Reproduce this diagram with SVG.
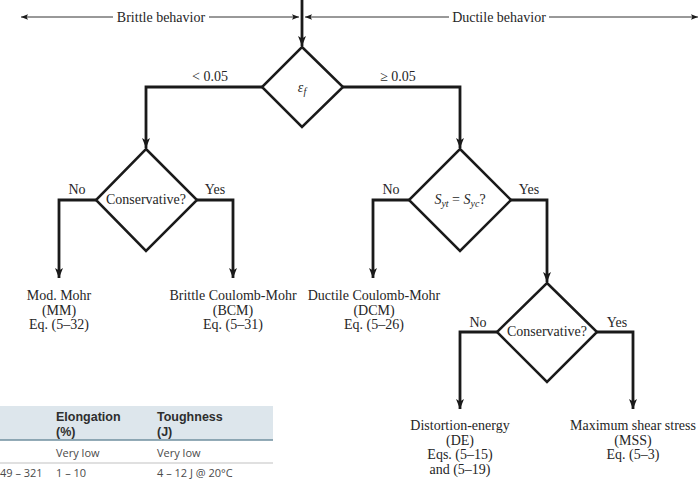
<svg xmlns="http://www.w3.org/2000/svg" width="700" height="483" viewBox="0 0 700 483">
<defs>
<marker id="ah" viewBox="0 0 10 10" refX="10" refY="5" markerWidth="10" markerHeight="10" markerUnits="userSpaceOnUse" orient="auto">
<path d="M0,1 L10,5 L0,9 L2.5,5 Z" fill="#1a1a1a"/>
</marker>
<marker id="as" viewBox="0 0 10 10" refX="10" refY="5" markerWidth="9" markerHeight="7" markerUnits="userSpaceOnUse" orient="auto">
<path d="M0,1 L10,5 L0,9 L2,5 Z" fill="#1a1a1a"/>
</marker>
<style>
.t{font-family:"Liberation Serif","Times New Roman",serif;font-size:14px;fill:#262626;text-anchor:middle}
.i{font-style:italic}
.d{fill:#fff;stroke:#1a1a1a;stroke-width:2.5;stroke-linejoin:miter}
.c{fill:none;stroke:#1a1a1a;stroke-width:2.8;stroke-linejoin:miter}
.thin{fill:none;stroke:#333;stroke-width:1}
.th{font-family:"Liberation Sans",Arial,sans-serif;font-size:12.5px;font-weight:bold;fill:#2e2e2e}
.td{font-family:"Open Sans","Liberation Sans",Arial,sans-serif;font-size:11px;fill:#4a4a4a}
</style>
</defs>
<rect width="700" height="483" fill="#fff"/>

<g id="connectors">
<line class="thin" x1="113" y1="17" x2="21" y2="17" marker-end="url(#as)"/>
<line class="thin" x1="209" y1="17" x2="299" y2="17" marker-end="url(#as)"/>
<line class="thin" x1="449" y1="17" x2="305" y2="17" marker-end="url(#as)"/>
<line class="thin" x1="549" y1="17" x2="698" y2="17" marker-end="url(#as)"/>
<path class="c" d="M302,0 V46" marker-end="url(#ah)"/>
<path class="c" d="M262,87 H146 V148" marker-end="url(#ah)"/>
<path class="c" d="M343,87 H460 V148" marker-end="url(#ah)"/>
<path class="c" d="M96,200 H59 V278" marker-end="url(#ah)"/>
<path class="c" d="M197,200 H233 V278" marker-end="url(#ah)"/>
<path class="c" d="M409,200 H373 V278" marker-end="url(#ah)"/>
<path class="c" d="M511,200 H547 V282" marker-end="url(#ah)"/>
<path class="c" d="M497,332 H460 V409" marker-end="url(#ah)"/>
<path class="c" d="M597,332 H633 V409" marker-end="url(#ah)"/>
<text class="t" x="161" y="22">Brittle behavior</text>
<text class="t" x="499" y="22">Ductile behavior</text>
<text class="t" x="210" y="81">&lt; 0.05</text>
<text class="t" x="398" y="81">≥ 0.05</text>
<text class="t" x="77" y="194">No</text>
<text class="t" x="215" y="194">Yes</text>
<text class="t" x="391" y="194">No</text>
<text class="t" x="529" y="194">Yes</text>
<text class="t" x="478" y="327">No</text>
<text class="t" x="617" y="327">Yes</text>
</g>

<g id="ef">
<path class="d" d="M302,47 L343,87 L302,127 L262,87 Z"/>
<text class="t i" x="302" y="92">ε<tspan font-size="10" dy="3">f</tspan></text>
</g>

<g id="conservative-brittle">
<path class="d" d="M146,149 L197,200 L146,251 L96,200 Z"/>
<text class="t" x="146" y="204">Conservative?</text>
</g>

<g id="syt-syc">
<path class="d" d="M460,149 L511,200 L460,251 L409,200 Z"/>
<text class="t" x="460" y="204"><tspan class="i">S</tspan><tspan class="i" font-size="10" dy="3">yt</tspan><tspan dy="-3"> = </tspan><tspan class="i">S</tspan><tspan class="i" font-size="10" dy="3">yc</tspan><tspan dy="-3">?</tspan></text>
</g>

<g id="conservative-ductile">
<path class="d" d="M547,283 L597,332 L547,382 L497,332 Z"/>
<text class="t" x="547" y="336">Conservative?</text>
</g>

<g id="mm">
<text class="t" x="59" y="300">Mod. Mohr</text>
<text class="t" x="59" y="314.5">(MM)</text>
<text class="t" x="59" y="329">Eq. (5–32)</text>
</g>

<g id="bcm">
<text class="t" x="233" y="300">Brittle Coulomb-Mohr</text>
<text class="t" x="233" y="314.5">(BCM)</text>
<text class="t" x="233" y="329">Eq. (5–31)</text>
</g>

<g id="dcm">
<text class="t" x="374" y="300">Ductile Coulomb-Mohr</text>
<text class="t" x="374" y="314.5">(DCM)</text>
<text class="t" x="374" y="329">Eq. (5–26)</text>
</g>

<g id="de">
<text class="t" x="460" y="430">Distortion-energy</text>
<text class="t" x="460" y="444.5">(DE)</text>
<text class="t" x="460" y="459">Eqs. (5–15)</text>
<text class="t" x="460" y="473.5">and (5–19)</text>
</g>

<g id="mss">
<text class="t" x="633" y="430">Maximum shear stress</text>
<text class="t" x="633" y="444.5">(MSS)</text>
<text class="t" x="633" y="459">Eq. (5–3)</text>
</g>

<g id="table">
<rect x="0" y="406" width="273" height="34" fill="#dde6ec"/>
<line x1="0" y1="440" x2="273" y2="440" stroke="#6f8f9f" stroke-width="1.5"/>
<line x1="0" y1="463" x2="273" y2="463" stroke="#d6d6d6" stroke-width="1.5"/>
<text class="th" x="56" y="421"><tspan x="56">Elongation</tspan><tspan x="56" dy="14.5">(%)</tspan></text>
<text class="th" x="157" y="421"><tspan x="157">Toughness</tspan><tspan x="157" dy="14.5">(J)</tspan></text>
<text class="td" x="56" y="457">Very low</text>
<text class="td" x="157" y="457">Very low</text>
<text class="td" x="0" y="477">49 – 321</text>
<text class="td" x="56" y="477">1 – 10</text>
<text class="td" x="157" y="477">4 – 12 J @ 20°C</text>
</g>
</svg>
